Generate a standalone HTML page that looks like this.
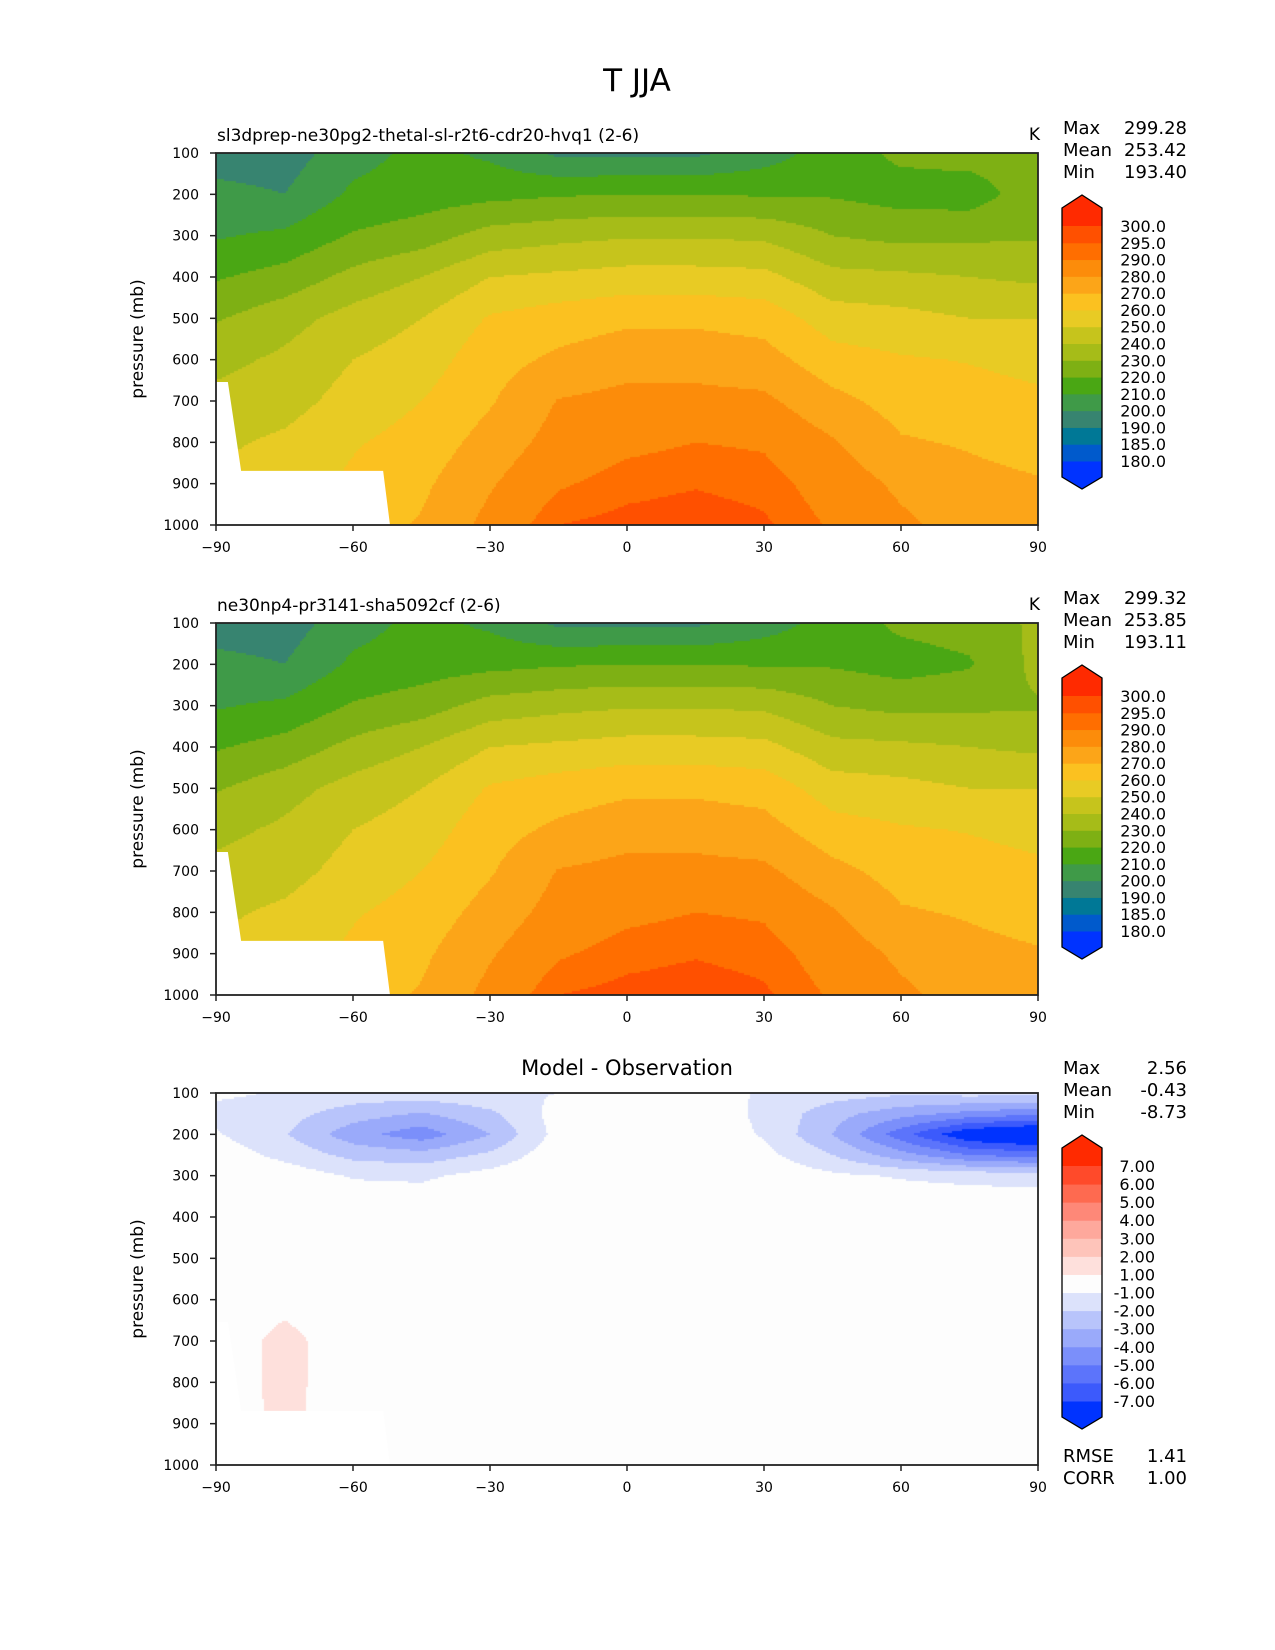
<!DOCTYPE html>
<html><head><meta charset="utf-8"><style>
html,body{margin:0;padding:0;background:#fff;}
#root{position:relative;width:1275px;height:1650px;overflow:hidden;font-family:"DejaVu Sans","Liberation Sans",sans-serif;}
canvas{position:absolute;}
svg{position:absolute;left:0;top:0;}
</style></head><body>
<div id="root">
<canvas id="c1"></canvas>
<canvas id="c2"></canvas>
<canvas id="c3"></canvas>
<svg id="ov" width="1275" height="1650"></svg>
</div>
<script>
// ---- data ----
const lats = [-90,-75,-60,-45,-30,-15,0,15,30,45,60,75,90];
const tLevels = [100,200,300,400,500,600,700,800,900,1000];
const tModel = [
 [195,195,206,213,208,198,198,198,205,215,222,224,224],
 [203,200,212,215,217,219,220,220,219,219,216,215,226],
 [209,212,221,225,234,237,239,239,238,230,227,228,229],
 [219,224,233,240,250,252,254,254,253,243,242,240,238],
 [229,236,244,250,261,265,268,268,266,255,253,250,250],
 [237,242,250,255,266,272,276,276,274,264,261,259.5,257],
 [243,246,254,260,269,280.5,283,283,282,273,266,264,262],
 [248,252,259,264,274,284,288,290,289,281,271,269,266],
 [252,255,262,268,279,289,293,294.5,293,286,278,273,271],
 [255,258,265,271,283,295,297,298,296,289,282,276,274]
];
const tRef = [
 [195,195,206,213,208,198,198,198,205,214,222,224,232],
 [203,200,212,215,217,219,220,220,219,219,216,219,233],
 [209,212,221,225,234,237,239,239,238,230,227,228,229],
 [219,224,233,240,250,252,254,254,253,243,242,240,238],
 [229,236,244,250,261,265,268,268,266,255,253,250,250],
 [237,242,250,255,266,272,276,276,274,264,261,259.5,257],
 [243,246,254,260,269,280.5,283,283,282,273,266,264,262],
 [248,252,259,264,274,284,288,290,289,281,271,269,266],
 [252,255,262,268,279,289,293,294.5,293,286,278,273,271],
 [255,258,265,271,283,295,297,298,296,289,282,276,274]
];
const dLevels = [100,150,200,250,300,400,500,600,700,800,900,1000];
const dDiff = [
 [-0.8,-1.1,-1.4,-1.4,-1.2,-1.0,-0.6,-0.6,-1.1,-1.5,-1.8,-1.6,-1.6],
 [-1.3,-1.6,-2.5,-3.1,-2.2,-0.6,-0.4,-0.4,-1.2,-2.6,-3.6,-4.3,-4.8],
 [-0.9,-1.9,-3.6,-4.6,-3.0,-0.6,-0.3,-0.3,-1.1,-3.0,-5.6,-8.0,-8.7],
 [-0.4,-1.3,-2.3,-2.6,-1.8,-0.3,-0.2,-0.2,-0.7,-2.0,-3.6,-5.0,-5.5],
 [0,-0.4,-1.1,-1.2,-0.6,0,0,0,-0.2,-0.8,-1.1,-1.3,-1.4],
 [0,0,0,0,0,0,0,0,0,0,0,0,0],
 [0,0,0,0,0,0,0,0,0,0,0,0,0],
 [0,0.5,0,0,0,0,0,0,0,0,0,0,0],
 [0,1.5,0,0,0,0,0,0,0,0,0,0,0],
 [0,1.5,0,0,0,0,0,0,0,0,0,0,0],
 [0,1.4,0,0,0,0,0,0,0,0,0,0,0],
 [0,0,0,0,0,0,0,0,0,0,0,0,0]
];
const tBounds = [180,185,190,200,210,220,230,240,250,260,270,280,290,295,300];
const tColors = ['#0033ff','#005acc','#007896','#378470','#3f9a48','#4aa714','#7eb014','#a6bc18','#c6c41c','#e8cb24','#fbc120','#fca518','#fc8c0a','#ff6e00','#ff5000','#ff2a00'];
const tLabels = ['180.0','185.0','190.0','200.0','210.0','220.0','230.0','240.0','250.0','260.0','270.0','280.0','290.0','295.0','300.0'];
const dBounds = [-7,-6,-5,-4,-3,-2,-1,1,2,3,4,5,6,7];
const dColors = ['#0033ff','#3c5afc','#5c74fb','#7b8ffa','#9aaafa','#b8c4fb','#dce2fb','#fdfdfd','#fee0dc','#fec4ba','#fea89c','#fe8878','#fe6a50','#ff4a2a','#ff2a00'];
const dLabels = ['-7.00','-6.00','-5.00','-4.00','-3.00','-2.00','-1.00','1.00','2.00','3.00','4.00','5.00','6.00','7.00'];
const xTicks = [-90,-60,-30,0,30,60,90];
const yTicks = [100,200,300,400,500,600,700,800,900,1000];
const maskLat = [-90,-87.4,-84.5,-53.4,-51.9,-90];
const maskP = [654,654,869,869,1000,1000];

// ---- geometry ----
const X0=216, X1=1038, PH=372;
const tops=[153,623,1093];
function xOf(lat){return X0+(lat+90)/180*(X1-X0);}
function yOf(p,top){return top+(p-100)/900*PH;}
function interp(grid,levels,lat,p){
  let i=Math.min(lats.length-2,Math.max(0,Math.floor((lat+90)/15)));
  let fx=(lat-lats[i])/(lats[i+1]-lats[i]);
  let j=0; while(j<levels.length-2 && p>levels[j+1]) j++;
  let fy=(p-levels[j])/(levels[j+1]-levels[j]);
  fx=Math.max(0,Math.min(1,fx)); fy=Math.max(0,Math.min(1,fy));
  const a=grid[j][i],b=grid[j][i+1],c=grid[j+1][i],d=grid[j+1][i+1];
  return (a*(1-fx)+b*fx)*(1-fy)+(c*(1-fx)+d*fx)*fy;
}
function colorFor(v,bounds,colors){let k=0;while(k<bounds.length&&v>=bounds[k])k++;return colors[k];}
function drawField(id,grid,levels,bounds,colors,top){
  const cv=document.getElementById(id);
  cv.width=X1-X0; cv.height=PH; cv.style.left=X0+'px'; cv.style.top=top+'px';
  const ctx=cv.getContext('2d'); const s=2;
  for(let py=0;py<PH;py+=s){for(let px=0;px<X1-X0;px+=s){
    const lat=-90+(px+1)/(X1-X0)*180, p=100+(py+1)/PH*900;
    ctx.fillStyle=colorFor(interp(grid,levels,lat,p),bounds,colors);
    ctx.fillRect(px,py,s,s);}}
}
drawField('c1',tModel,tLevels,tBounds,tColors,tops[0]);
drawField('c2',tRef,tLevels,tBounds,tColors,tops[1]);
drawField('c3',dDiff,dLevels,dBounds,dColors,tops[2]);

// ---- overlay ----
const NS='http://www.w3.org/2000/svg', ov=document.getElementById('ov');
function el(tag,attrs,parent){const e=document.createElementNS(NS,tag);for(const k in attrs)e.setAttribute(k,attrs[k]);(parent||ov).appendChild(e);return e;}
function txt(str,attrs,name){const t=el('text',Object.assign({'font-family':'DejaVu Sans, Liberation Sans, sans-serif',fill:'#000'},attrs));t.textContent=str;


return t;}

txt('T JJA',{x:637,y:91,'font-size':31,'text-anchor':'middle'},'figure-title');
const subt=['sl3dprep-ne30pg2-thetal-sl-r2t6-cdr20-hvq1 (2-6)','ne30np4-pr3141-sha5092cf (2-6)'];
const stats=[['299.28','253.42','193.40'],['299.32','253.85','193.11'],['2.56','-0.43','-8.73']];
tops.forEach((top,pi)=>{
  const pts=maskLat.map((l,k)=>xOf(l)+','+yOf(maskP[k],top)).join(' ');
  const m=el('polygon',{points:pts,fill:'#ffffff'});
  
  
  const fr=el('rect',{x:X0,y:top,width:X1-X0,height:PH,fill:'none',stroke:'#222',"stroke-width":1.8});
  
  
  xTicks.forEach(v=>{const x=xOf(v);
    el('line',{x1:x,x2:x,y1:top+PH,y2:top+PH+6,stroke:'#222','stroke-width':1.5});
    txt(v<0?'\u2212'+(-v):String(v),{x:x,y:top+PH+27,'font-size':14,'text-anchor':'middle'},'x-tick-label');});
  yTicks.forEach(v=>{const y=yOf(v,top);
    el('line',{x1:X0-6,x2:X0,y1:y,y2:y,stroke:'#222','stroke-width':1.5});
    txt(String(v),{x:199,y:y+5,'font-size':14,'text-anchor':'end'},'y-tick-label');});
  txt('pressure (mb)',{x:0,y:0,'font-size':17,'text-anchor':'middle',transform:'translate(143,'+(top+PH/2)+') rotate(-90)'},'y-axis-title');
  if(pi<2){
    txt(subt[pi],{x:217,y:top-12,'font-size':17},'panel-subtitle');
    txt('K',{x:1040,y:top-13,'font-size':17,'text-anchor':'end'},'units-label');
  } else {
    txt('Model - Observation',{x:(X0+X1)/2,y:top-18,'font-size':21,'text-anchor':'middle'},'panel-subtitle');
    txt('RMSE',{x:1063,y:top+369,'font-size':18},'rmse-label');
    txt('1.41',{x:1187,y:top+369,'font-size':18,'text-anchor':'end'},'rmse-value');
    txt('CORR',{x:1063,y:top+391,'font-size':18},'corr-label');
    txt('1.00',{x:1187,y:top+391,'font-size':18,'text-anchor':'end'},'corr-value');
  }
  ['Max','Mean','Min'].forEach((lb,k)=>{
    txt(lb,{x:1063,y:top-19+k*22,'font-size':18},'stat-label');
    txt(stats[pi][k],{x:1187,y:top-19+k*22,'font-size':18,'text-anchor':'end'},'stat-value');});
  const isT=pi<2, bounds=isT?tBounds:dBounds, cols=isT?tColors:dColors, labs=isT?tLabels:dLabels;
  const n=bounds.length, yTopB=top+73, yBotB=top+308, step=(yBotB-yTopB)/(n-1);
  const cx0=1062, cx1=1102;
  const g=el('g',{});
  
  
  el('polygon',{points:`${cx0},${yTopB} ${cx0},${top+55} ${(cx0+cx1)/2},${top+42} ${cx1},${top+55} ${cx1},${yTopB}`,fill:cols[n]},g);
  el('polygon',{points:`${cx0},${yBotB} ${cx0},${top+324} ${(cx0+cx1)/2},${top+336} ${cx1},${top+324} ${cx1},${yBotB}`,fill:cols[0]},g);
  for(let k=0;k<n-1;k++){
    el('rect',{x:cx0,y:yBotB-(k+1)*step,width:cx1-cx0,height:step+0.5,fill:cols[k+1]},g);}
  el('polygon',{points:`${cx0},${top+55} ${(cx0+cx1)/2},${top+42} ${cx1},${top+55} ${cx1},${top+324} ${(cx0+cx1)/2},${top+336} ${cx0},${top+324}`,fill:'none',stroke:'#000','stroke-width':1.3},g);
  labs.forEach((lb,k)=>{txt(lb,{x:isT?1166:1155,y:yBotB-k*step+6,'font-size':16,'text-anchor':'end'},'colorbar-tick-label');});
});
</script>
</body></html>
